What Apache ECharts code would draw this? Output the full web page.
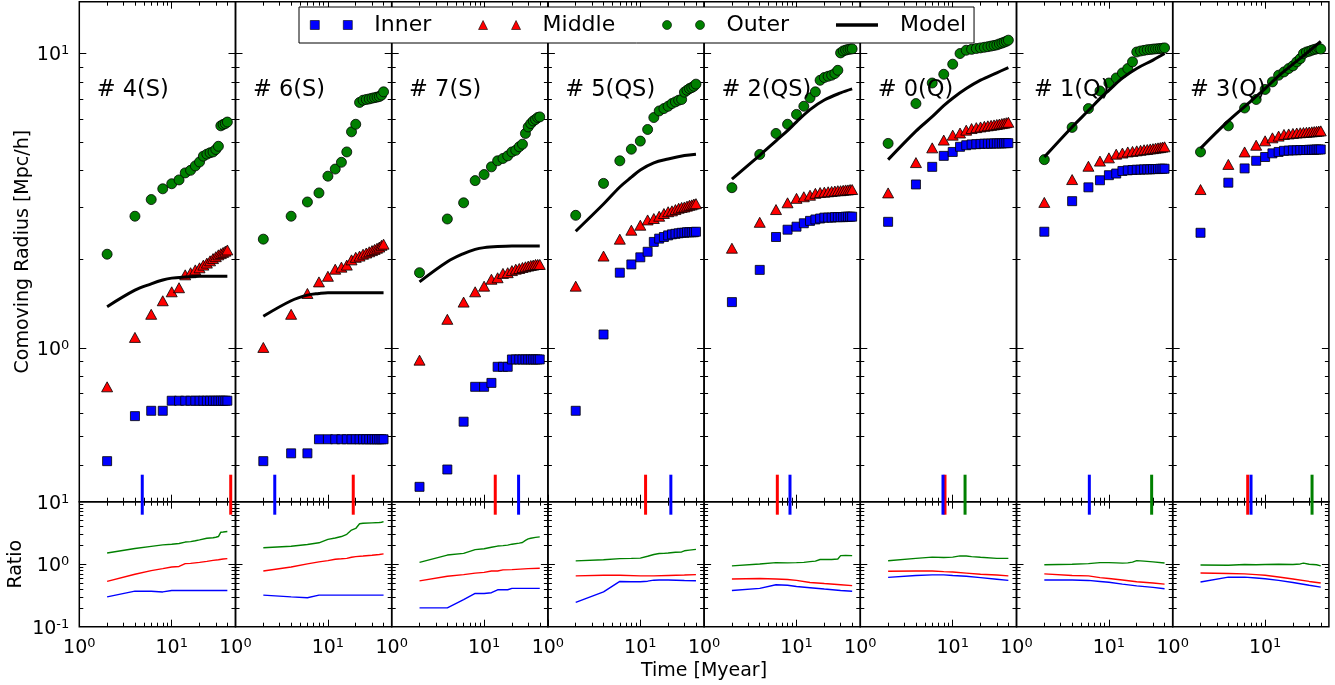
<!DOCTYPE html>
<html><head><meta charset="utf-8">
<script src="https://cdn.jsdelivr.net/npm/echarts@6/dist/echarts.min.js"></script>
<style>html,body{margin:0;padding:0;background:#fff}#c{width:1335px;height:685px}</style>
</head><body><div id="c"></div>
<script>
// ---------------- data ----------------
const times = [2,4,6,8,10,12,14,16,18,20,22,24,26,28,30,32,34,36,38,40];
const modelTimes = [2,4,6,8,10,14,20,30,40];
const panelLabels = ['# 4(S)','# 6(S)','# 7(S)','# 5(QS)','# 2(QS)','# 0(Q)','# 1(Q)','# 3(Q)'];
const legendNames = ['Inner','Middle','Outer','Model'];
const xTickMajor = [1,10];
const xTickMinor = [2,3,4,5,6,7,8,9,20,30,40];
const yTopMajor = [1,10];
const yTopMinor = [0.3,0.4,0.5,0.6,0.7,0.8,0.9,2,3,4,5,6,7,8,9];
const yBotMajor = [0.1,1,10];
const yBotMinor = [0.2,0.3,0.4,0.5,0.6,0.7,0.8,0.9,2,3,4,5,6,7,8,9];

// panel #4(S)
const inner_4S  = [0.412,0.586,0.611,0.611,0.661,0.661,0.661,0.661,0.661,0.661,0.661,0.661,0.661,0.661,0.661,0.661,0.661,0.661,0.661,0.661];
const middle_4S = [0.737,1.085,1.30,1.445,1.55,1.60,1.77,1.80,1.84,1.87,1.91,1.94,1.975,2.01,2.04,2.07,2.09,2.11,2.13,2.15];
const outer_4S  = [2.08,2.80,3.19,3.47,3.61,3.72,3.93,4.01,4.15,4.28,4.48,4.55,4.60,4.63,4.72,4.84,5.68,5.74,5.78,5.85];
const model_4S  = [1.38,1.57,1.65,1.70,1.725,1.74,1.75,1.75,1.75];
// panel #6(S)
const inner_6S  = [0.412,0.438,0.438,0.489,0.489,0.489,0.489,0.489,0.489,0.489,0.489,0.489,0.489,0.489,0.489,0.489,0.489,0.489,0.489,0.489];
const middle_6S = [1.003,1.30,1.53,1.675,1.75,1.85,1.88,1.91,1.99,2.03,2.05,2.08,2.10,2.12,2.14,2.16,2.18,2.20,2.23,2.25];
const outer_6S  = [2.34,2.80,3.13,3.36,3.83,4.05,4.27,4.63,5.42,5.75,6.82,6.94,6.98,7.01,7.05,7.08,7.11,7.14,7.22,7.41];
const model_6S  = [1.28,1.445,1.51,1.53,1.54,1.54,1.54,1.54,1.54];
// panel #7(S)
const inner_7S  = [0.337,0.386,0.561,0.737,0.737,0.760,0.862,0.862,0.862,0.913,0.913,0.913,0.913,0.913,0.913,0.913,0.913,0.913,0.913,0.913];
const middle_7S = [0.908,1.25,1.43,1.55,1.62,1.71,1.73,1.79,1.80,1.83,1.85,1.86,1.875,1.885,1.895,1.905,1.91,1.92,1.92,1.92];
const outer_7S  = [1.80,2.74,3.11,3.70,3.88,4.12,4.32,4.40,4.49,4.63,4.69,4.82,4.92,5.35,5.63,5.78,5.90,5.97,6.06,6.09];
const model_7S  = [1.675,1.96,2.09,2.16,2.19,2.21,2.22,2.22,2.22];
// panel #5(QS)
const inner_5QS  = [0.611,1.11,1.80,1.92,2.03,2.12,2.29,2.35,2.38,2.41,2.43,2.44,2.45,2.46,2.46,2.47,2.47,2.47,2.47,2.48];
const middle_5QS = [1.62,2.05,2.34,2.51,2.61,2.72,2.75,2.80,2.86,2.90,2.92,2.95,2.98,3.00,3.01,3.03,3.05,3.06,3.08,3.09];
const outer_5QS  = [2.82,3.62,4.32,4.73,5.04,5.52,6.06,6.38,6.50,6.62,6.76,6.85,6.94,6.98,7.39,7.50,7.60,7.66,7.74,7.87];
const model_5QS  = [2.49,3.08,3.52,3.80,4.02,4.25,4.38,4.50,4.55];
// panel #2(QS)
const inner_2QS  = [1.43,1.84,2.38,2.52,2.58,2.65,2.70,2.73,2.75,2.77,2.77,2.77,2.78,2.78,2.78,2.78,2.79,2.79,2.79,2.79];
const middle_2QS = [2.18,2.67,2.95,3.11,3.22,3.26,3.30,3.35,3.37,3.38,3.39,3.40,3.41,3.42,3.42,3.43,3.44,3.44,3.45,3.45];
const outer_2QS  = [3.50,4.54,5.35,5.75,6.21,6.62,7.07,7.41,8.11,8.29,8.37,8.44,8.55,8.77,10.05,10.2,10.27,10.32,10.35,10.37];
const model_2QS  = [3.74,4.51,5.05,5.47,5.86,6.45,6.95,7.35,7.58];
// panel #0(Q)
const inner_0Q  = [2.68,3.59,4.12,4.49,4.63,4.82,4.88,4.91,4.92,4.93,4.94,4.94,4.94,4.95,4.95,4.95,4.95,4.96,4.96,4.96];
const middle_0Q = [3.36,4.26,4.78,5.08,5.28,5.37,5.49,5.56,5.60,5.63,5.66,5.68,5.70,5.72,5.74,5.76,5.78,5.80,5.82,5.84];
const outer_0Q  = [4.95,6.76,7.94,8.50,9.20,10.0,10.26,10.33,10.40,10.45,10.5,10.55,10.6,10.65,10.7,10.78,10.85,10.92,11.0,11.1];
const model_0Q  = [4.36,5.45,6.10,6.65,7.05,7.60,8.12,8.60,8.96];
// panel #1(Q)
const inner_1Q  = [2.48,3.15,3.51,3.71,3.86,3.91,3.99,4.01,4.02,4.03,4.03,4.04,4.04,4.04,4.05,4.05,4.05,4.06,4.06,4.06];
const middle_1Q = [3.12,3.73,4.14,4.31,4.42,4.55,4.59,4.63,4.65,4.67,4.69,4.71,4.72,4.74,4.75,4.77,4.78,4.79,4.81,4.82];
const outer_1Q  = [4.36,5.61,6.50,7.46,7.94,8.26,8.59,8.89,9.37,10.12,10.2,10.25,10.3,10.32,10.35,10.37,10.38,10.4,10.42,10.45];
const model_1Q  = [4.45,5.63,6.40,7.03,7.50,8.25,8.90,9.50,10.0];
// panel #3(Q)
const inner_3Q  = [2.46,3.64,4.07,4.32,4.45,4.58,4.63,4.67,4.68,4.69,4.69,4.70,4.70,4.70,4.71,4.71,4.71,4.72,4.72,4.72];
const middle_3Q = [3.45,4.20,4.63,4.88,5.05,5.17,5.24,5.31,5.33,5.35,5.37,5.38,5.39,5.40,5.41,5.42,5.43,5.44,5.45,5.46];
const outer_3Q  = [4.63,5.68,6.53,6.98,7.55,8.01,8.44,8.66,8.89,9.08,9.37,9.61,10.0,10.12,10.18,10.26,10.32,10.37,10.43,10.36];
const model_3Q  = [4.76,5.90,6.60,7.15,7.60,8.40,9.20,10.2,11.0];

// ratio curves [time, ratio]
const rIn_4S  = [[2,0.30],[4,0.37],[6,0.37],[8,0.36],[10,0.38],[40,0.38]];
const rMid_4S = [[2,0.53],[4,0.69],[6,0.79],[8,0.85],[10,0.90],[12,0.92],[14,1.02],[16,1.03],[20,1.07],[24,1.11],[28,1.15],[32,1.18],[36,1.21],[40,1.23]];
const rOut_4S = [[2,1.51],[4,1.78],[6,1.93],[8,2.04],[10,2.09],[12,2.14],[14,2.26],[16,2.30],[18,2.37],[20,2.45],[24,2.60],[28,2.65],[30,2.70],[32,2.77],[34,3.25],[36,3.28],[40,3.34]];
const rIn_6S  = [[2,0.32],[4,0.30],[6,0.29],[8,0.32],[40,0.32]];
const rMid_6S = [[2,0.78],[4,0.90],[6,1.01],[8,1.09],[10,1.14],[12,1.20],[14,1.22],[16,1.24],[18,1.29],[20,1.32],[24,1.35],[30,1.39],[36,1.43],[40,1.46]];
const rOut_6S = [[2,1.83],[4,1.94],[6,2.07],[8,2.20],[10,2.49],[12,2.63],[14,2.77],[16,3.01],[18,3.52],[20,3.73],[22,4.43],[24,4.51],[30,4.58],[36,4.64],[38,4.69],[40,4.81]];
const rIn_7S  = [[2,0.20],[4,0.20],[6,0.27],[8,0.34],[10,0.34],[12,0.35],[14,0.39],[18,0.39],[20,0.41],[40,0.41]];
const rMid_7S = [[2,0.54],[4,0.64],[6,0.68],[8,0.72],[10,0.74],[12,0.78],[14,0.78],[16,0.81],[20,0.82],[30,0.85],[40,0.86]];
const rOut_7S = [[2,1.07],[4,1.40],[6,1.49],[8,1.71],[10,1.77],[12,1.87],[14,1.95],[16,1.98],[18,2.02],[20,2.09],[24,2.17],[26,2.22],[28,2.41],[30,2.54],[32,2.60],[36,2.69],[40,2.74]];
const rIn_5QS  = [[2,0.245],[4,0.36],[6,0.53],[8,0.525],[10,0.525],[12,0.535],[14,0.555],[16,0.56],[20,0.56],[30,0.55],[40,0.545]];
const rMid_5QS = [[2,0.65],[4,0.665],[6,0.665],[10,0.65],[14,0.65],[20,0.66],[30,0.67],[40,0.68]];
const rOut_5QS = [[2,1.13],[4,1.18],[6,1.23],[8,1.24],[10,1.25],[12,1.34],[14,1.43],[16,1.48],[18,1.49],[20,1.51],[24,1.55],[28,1.57],[30,1.64],[34,1.68],[40,1.73]];
const rIn_2QS  = [[2,0.38],[4,0.41],[6,0.47],[8,0.46],[10,0.44],[14,0.42],[20,0.40],[30,0.38],[40,0.37]];
const rMid_2QS = [[2,0.58],[4,0.59],[6,0.58],[8,0.57],[10,0.55],[14,0.51],[20,0.49],[30,0.47],[40,0.455]];
const rOut_2QS = [[2,0.94],[4,1.01],[6,1.06],[8,1.05],[10,1.06],[12,1.07],[14,1.10],[16,1.12],[18,1.19],[20,1.19],[24,1.19],[28,1.21],[30,1.37],[34,1.38],[40,1.37]];
const rIn_0Q  = [[2,0.615],[4,0.66],[6,0.675],[8,0.675],[10,0.66],[14,0.64],[20,0.61],[30,0.575],[40,0.55]];
const rMid_0Q = [[2,0.77],[4,0.78],[6,0.78],[8,0.76],[10,0.75],[14,0.72],[20,0.69],[30,0.67],[40,0.65]];
const rOut_0Q = [[2,1.135],[4,1.24],[6,1.30],[8,1.28],[10,1.30],[12,1.36],[14,1.35],[16,1.32],[20,1.29],[30,1.24],[40,1.24]];
const rIn_1Q  = [[2,0.56],[4,0.56],[6,0.55],[8,0.53],[10,0.515],[14,0.48],[20,0.45],[30,0.425],[40,0.405]];
const rMid_1Q = [[2,0.70],[4,0.66],[6,0.65],[8,0.61],[10,0.59],[14,0.56],[20,0.525],[30,0.50],[40,0.48]];
const rOut_1Q = [[2,0.98],[4,1.00],[6,1.02],[8,1.06],[10,1.06],[12,1.05],[14,1.04],[16,1.05],[18,1.08],[20,1.14],[24,1.12],[30,1.09],[40,1.045]];
const rIn_3Q  = [[2,0.52],[4,0.62],[6,0.62],[8,0.60],[10,0.585],[14,0.55],[20,0.51],[30,0.46],[40,0.43]];
const rMid_3Q = [[2,0.725],[4,0.71],[6,0.70],[8,0.68],[10,0.665],[14,0.625],[20,0.58],[30,0.53],[40,0.50]];
const rOut_3Q = [[2,0.97],[4,0.96],[6,0.99],[8,0.98],[10,0.99],[14,1.00],[20,0.99],[24,1.01],[26,1.04],[30,1.00],[36,0.98],[40,0.94]];

// vertical time markers per panel (null = none)
const markBlue  = [4.8,2.66,23.6,21.4,8.5,7.85,6.14,7.04];
const markRed   = [43.5,18.8,13.2,11.4,6.2,8.25,null,6.48];
const markGreen = [null,null,null,null,null,13.6,29.0,32.2];

// ---------------- layout / style ----------------
const FONT = 'DejaVu Sans';
const L0 = 79.3, PW = 156.2;
const TOP_T = 1.7, TOP_H = 500, BOT_T = 501.7, BOT_H = 125;
const X_MIN = 1, X_MAX = 49;
const YT_MIN = 0.3, YT_MAX = 15, YB_MIN = 0.1, YB_MAX = 10;
const BLUE = '#0000ff', RED = '#ff0000', GREEN = '#008000';

const innerAll  = [inner_4S, inner_6S, inner_7S, inner_5QS, inner_2QS, inner_0Q, inner_1Q, inner_3Q];
const middleAll = [middle_4S, middle_6S, middle_7S, middle_5QS, middle_2QS, middle_0Q, middle_1Q, middle_3Q];
const outerAll  = [outer_4S, outer_6S, outer_7S, outer_5QS, outer_2QS, outer_0Q, outer_1Q, outer_3Q];
const modelAll  = [model_4S, model_6S, model_7S, model_5QS, model_2QS, model_0Q, model_1Q, model_3Q];
const rInAll  = [rIn_4S, rIn_6S, rIn_7S, rIn_5QS, rIn_2QS, rIn_0Q, rIn_1Q, rIn_3Q];
const rMidAll = [rMid_4S, rMid_6S, rMid_7S, rMid_5QS, rMid_2QS, rMid_0Q, rMid_1Q, rMid_3Q];
const rOutAll = [rOut_4S, rOut_6S, rOut_7S, rOut_5QS, rOut_2QS, rOut_0Q, rOut_1Q, rOut_3Q];

const RICH = {
  b: {fontSize: 19, fontFamily: FONT, color: '#000', lineHeight: 22},
  s: {fontSize: 13, fontFamily: FONT, color: '#000', lineHeight: 10, verticalAlign: 'top'}
};
function supLabel(v) {
  const e = Math.round(Math.log10(v));
  return '{b|10}{s|' + (e < 0 ? '-' : '') + Math.abs(e) + '}';
}
const tickStyle = {color: '#000', width: 1};

const grids = [], xAxes = [], yAxes = [], series = [], titles = [];

function addGrid(i, isTop) {
  const g = grids.length;
  grids.push({left: L0 + i * PW, top: isTop ? TOP_T : BOT_T, width: PW, height: isTop ? TOP_H : BOT_H,
    show: true, borderColor: '#000', borderWidth: 1.5, backgroundColor: 'transparent', containLabel: false});
  const xb = {type: 'log', logBase: 10, gridIndex: g, min: X_MIN, max: X_MAX,
    axisLine: {show: false, onZero: false}, splitLine: {show: false}, axisLabel: {show: false}};
  const xMainIdx = xAxes.length;
  const showXLab = !isTop;
  xAxes.push(Object.assign({}, xb, {position: 'bottom',
    axisTick: {show: true, inside: true, length: 7, customValues: xTickMajor, lineStyle: tickStyle},
    axisLabel: showXLab ? {show: true, customValues: xTickMajor, formatter: supLabel, margin: 10, rich: RICH} : {show: false}}));
  xAxes.push(Object.assign({}, xb, {position: 'bottom',
    axisTick: {show: true, inside: true, length: 4, customValues: xTickMinor, lineStyle: tickStyle}}));
  xAxes.push(Object.assign({}, xb, {position: 'top',
    axisTick: {show: true, inside: true, length: 7, customValues: xTickMajor, lineStyle: tickStyle}}));
  xAxes.push(Object.assign({}, xb, {position: 'top',
    axisTick: {show: true, inside: true, length: 4, customValues: xTickMinor, lineStyle: tickStyle}}));

  const ymin = isTop ? YT_MIN : YB_MIN, ymax = isTop ? YT_MAX : YB_MAX;
  const yMaj = isTop ? yTopMajor : yBotMajor, yMin = isTop ? yTopMinor : yBotMinor;
  const yb = {type: 'log', logBase: 10, gridIndex: g, min: ymin, max: ymax,
    axisLine: {show: false, onZero: false}, splitLine: {show: false}, axisLabel: {show: false}};
  const yMainIdx = yAxes.length;
  const mainY = Object.assign({}, yb, {position: 'left',
    axisTick: {show: true, inside: true, length: 7, customValues: yMaj, lineStyle: tickStyle}});
  if (i === 0) {
    mainY.axisLabel = {show: true, customValues: yMaj, formatter: supLabel, margin: 10, rich: RICH, align: 'right', padding: [4, 0, 0, 0]};
    mainY.name = isTop ? 'Comoving Radius [Mpc/h]' : 'Ratio';
    mainY.nameLocation = 'middle';
    mainY.nameGap = isTop ? 46 : 54;
    mainY.nameTextStyle = {fontFamily: FONT, fontSize: 19, color: '#000'};
  }
  yAxes.push(mainY);
  yAxes.push(Object.assign({}, yb, {position: 'left',
    axisTick: {show: true, inside: true, length: 4, customValues: yMin, lineStyle: tickStyle}}));
  yAxes.push(Object.assign({}, yb, {position: 'right',
    axisTick: {show: true, inside: true, length: 7, customValues: yMaj, lineStyle: tickStyle}}));
  yAxes.push(Object.assign({}, yb, {position: 'right',
    axisTick: {show: true, inside: true, length: 4, customValues: yMin, lineStyle: tickStyle}}));
  return {x: xMainIdx, y: yMainIdx};
}

function vlineSeries(ax, t, color) {
  return {type: 'custom', xAxisIndex: ax.x, yAxisIndex: ax.y, clip: false, z: 5, silent: true,
    data: [[t]],
    renderItem: function (params, api) {
      const p = api.coord([api.value(0), YT_MIN]);
      return {type: 'line', shape: {x1: p[0], y1: p[1] - 27, x2: p[0], y2: p[1] + 13},
        style: {stroke: color, lineWidth: 3}};
    }};
}

for (let i = 0; i < 8; i++) {
  const top = addGrid(i, true);
  const bot = addGrid(i, false);
  const pts = arr => times.map((t, k) => [t, arr[k]]);
  series.push({name: 'Inner', type: 'scatter', xAxisIndex: top.x, yAxisIndex: top.y, symbol: 'rect', symbolSize: 9,
    itemStyle: {color: BLUE, borderColor: '#000', borderWidth: 0.8, opacity: 1}, data: pts(innerAll[i])});
  series.push({name: 'Middle', type: 'scatter', xAxisIndex: top.x, yAxisIndex: top.y, symbol: 'triangle', symbolSize: [11, 10],
    itemStyle: {color: RED, borderColor: '#000', borderWidth: 0.8, opacity: 1}, data: pts(middleAll[i])});
  series.push({name: 'Outer', type: 'scatter', xAxisIndex: top.x, yAxisIndex: top.y, symbol: 'circle', symbolSize: 10,
    itemStyle: {color: GREEN, borderColor: '#000', borderWidth: 0.8, opacity: 1}, data: pts(outerAll[i])});
  series.push({name: 'Model', type: 'line', xAxisIndex: top.x, yAxisIndex: top.y, symbol: 'none', smooth: 0.35,
    lineStyle: {color: '#000', width: 3}, itemStyle: {color: '#000'}, z: 3,
    data: modelTimes.map((t, k) => [t, modelAll[i][k]])});
  if (markRed[i] !== null) series.push(vlineSeries(top, markRed[i], RED));
  if (markBlue[i] !== null) series.push(vlineSeries(top, markBlue[i], BLUE));
  if (markGreen[i] !== null) series.push(vlineSeries(top, markGreen[i], GREEN));
  [[rOutAll[i], GREEN], [rMidAll[i], RED], [rInAll[i], BLUE]].forEach(function (r) {
    series.push({name: 'ratio', type: 'line', xAxisIndex: bot.x, yAxisIndex: bot.y, symbol: 'none',
      lineStyle: {color: r[1], width: 1.4}, data: r[0]});
  });
  titles.push({text: panelLabels[i], left: L0 + i * PW + 17.4, top: 79, padding: 0,
    textStyle: {fontFamily: FONT, fontSize: 22.5, fontWeight: 'normal', color: '#000'}});
}
titles.push({text: 'Time [Myear]', left: 704, top: 662, padding: 0, textAlign: 'center',
  textStyle: {fontFamily: FONT, fontSize: 19, fontWeight: 'normal', color: '#000'}});

const option = {
  animation: false,
  backgroundColor: '#fff',
  title: titles,
  grid: grids,
  xAxis: xAxes,
  yAxis: yAxes,
  legend: {
    left: 299, top: 7, padding: [6, 8, 6, 11], itemGap: 47, itemWidth: 42, itemHeight: 9,
    backgroundColor: '#fff', borderColor: '#000', borderWidth: 1, borderRadius: 0, selectedMode: false, z: 10,
    textStyle: {fontFamily: FONT, fontSize: 22, color: '#000', padding: [0, 0, 0, 17], lineHeight: 24},
    data: [
      {name: legendNames[0], icon: 'path://M0,0H9V9H0Z M33,0H42V9H33Z', itemStyle: {color: BLUE, borderColor: '#000', borderWidth: 0.6, opacity: 1}},
      {name: legendNames[1], icon: 'path://M4.5,0L9,9L0,9Z M37.5,0L42,9L33,9Z', itemStyle: {color: RED, borderColor: '#000', borderWidth: 0.6, opacity: 1}},
      {name: legendNames[2], icon: 'path://M0,4.5A4.5,4.5,0,1,1,9,4.5A4.5,4.5,0,1,1,0,4.5Z M33,4.5A4.5,4.5,0,1,1,42,4.5A4.5,4.5,0,1,1,33,4.5Z', itemStyle: {color: GREEN, borderColor: '#000', borderWidth: 0.6, opacity: 1}},
      {name: legendNames[3], icon: 'path://M0,0H37V3H0Z', itemStyle: {color: '#000', borderWidth: 0}}
    ]
  },
  series: series
};
const chart = echarts.init(document.getElementById('c'), null, {renderer: 'canvas'});
chart.setOption(option);
</script></body></html>
